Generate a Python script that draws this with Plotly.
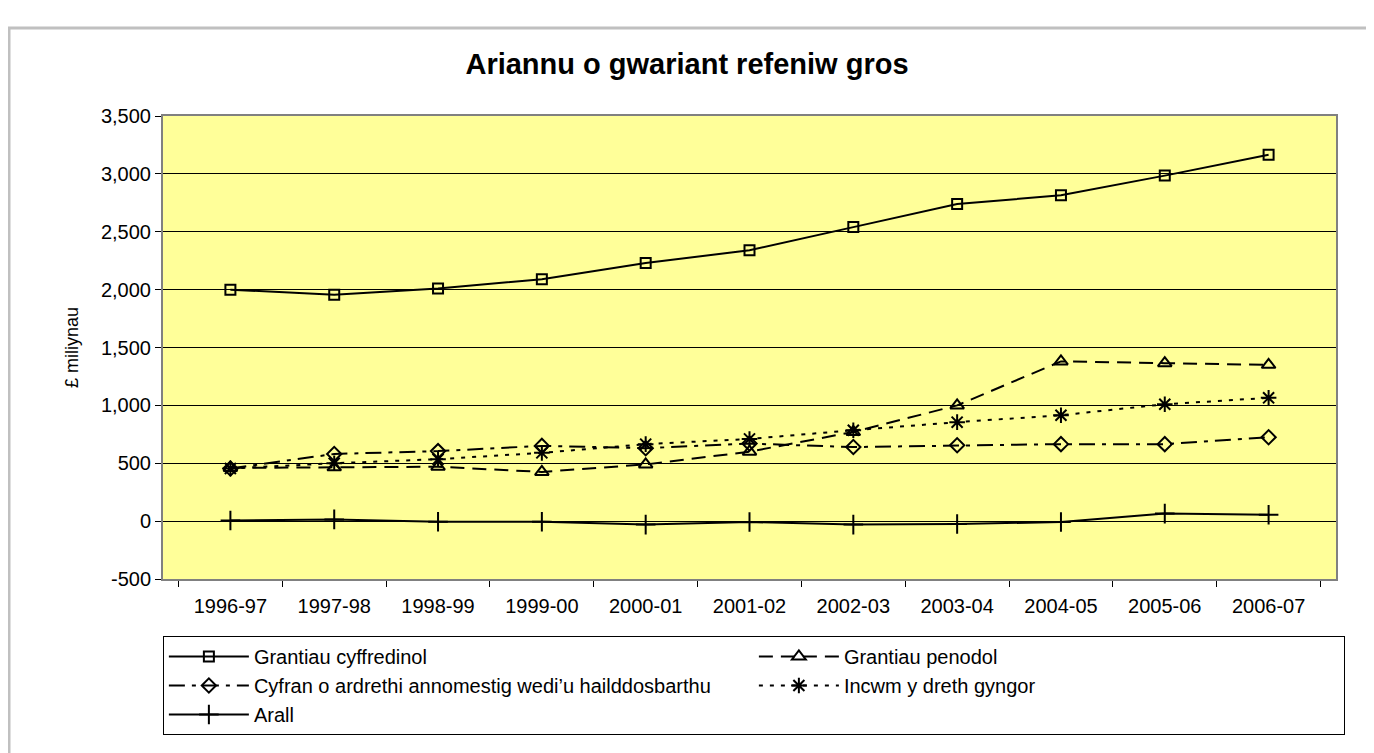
import plotly.graph_objects as go

# --- data ---
categories = ["1996-97", "1997-98", "1998-99", "1999-00", "2000-01", "2001-02",
              "2002-03", "2003-04", "2004-05", "2005-06", "2006-07"]
grantiau_cyffredinol = [2000, 1955, 2010, 2090, 2230, 2340, 2540, 2740, 2815, 2985, 3165]
grantiau_penodol = [460, 465, 470, 425, 490, 600, 770, 1000, 1380, 1365, 1350]
cyfran_ardrethi = [455, 580, 605, 650, 630, 670, 640, 655, 665, 665, 725]
incwm_treth_gyngor = [455, 500, 535, 590, 665, 710, 785, 855, 915, 1010, 1065]
arall = [5, 15, -5, -5, -30, -8, -30, -25, -8, 65, 55]

y_ticks = [-500, 0, 500, 1000, 1500, 2000, 2500, 3000, 3500]
y_tick_labels = ["-500", "0", "500", "1,000", "1,500", "2,000", "2,500", "3,000", "3,500"]

# page body has an 8px margin, so the figure is drawn 8px in from the window edge
OFF = 8
W, H = 1374 - OFF, 753 - OFF
ML, MR, MT, MB = 163 - OFF, 38, 116 - OFF, 174
FONT = "Liberation Sans, Arial, sans-serif"

series = [
    ("Grantiau cyffredinol", grantiau_cyffredinol, "solid", "square-open", 10),
    ("Grantiau penodol", grantiau_penodol, "14px,8px", "triangle-up-open", 12),
    ("Cyfran o ardrethi annomestig wedi\u2019u hailddosbarthu", cyfran_ardrethi,
     "16px,7px,4px,7px", "diamond-open", 11),
    ("Incwm y dreth gyngor", incwm_treth_gyngor, "4px,7px", "asterisk-open", 13),
    ("Arall", arall, "solid", "cross-thin-open", 14),
]

fig = go.Figure()
for name, vals, dash, symbol, size in series:
    fig.add_trace(go.Scatter(
        x=categories, y=vals, name=name,
        mode="lines+markers",
        line=dict(color="black", width=2, dash=dash),
        marker=dict(symbol=symbol, size=size, color="black",
                    line=dict(color="black", width=2)),
    ))

# outer chart border (light grey frame), window pixels -> paper coords
pw, ph = W - ML - MR, H - MT - MB
def px_x(v):
    return (v - OFF - ML) / pw
def px_y(v):
    return (H - MB - (v - OFF)) / ph

fig.add_shape(type="rect", xref="paper", yref="paper",
              x0=px_x(9), x1=px_x(1369), y0=px_y(770), y1=px_y(28),
              line=dict(color="#c0c0c0", width=3), fillcolor="rgba(0,0,0,0)",
              layer="below")

fig.update_layout(
    width=W, height=H,
    margin=dict(l=ML, r=MR, t=MT, b=MB, autoexpand=False),
    paper_bgcolor="white",
    plot_bgcolor="#ffff99",
    font=dict(family=FONT, color="black", size=20),
    title=dict(text="<b>Ariannu o gwariant refeniw gros</b>",
               x=(687 - OFF) / W, xref="container", xanchor="center",
               y=1 - (64 - OFF) / H, yref="container", yanchor="middle",
               font=dict(family=FONT, size=29, color="black")),
    showlegend=True,
    legend=dict(
        orientation="h",
        x=-0.0001, xanchor="left",
        y=px_y(636), yanchor="top",
        bordercolor="black", borderwidth=1, bgcolor="white",
        entrywidth=495, itemwidth=80,
        font=dict(family=FONT, size=20, color="black"),
    ),
)

fig.update_xaxes(
    type="category", tickson="boundaries", ticks="outside", ticklen=6,
    tickcolor="black", showgrid=False, showline=True, mirror=True,
    linecolor="#808080", linewidth=2, ticklabelstandoff=8,
    tickfont=dict(family=FONT, size=20, color="black"),
)
fig.update_yaxes(
    range=[-500, 3500], tickvals=y_ticks, ticktext=y_tick_labels,
    ticks="outside", ticklen=6,
    tickcolor="black", showgrid=True, gridcolor="black", gridwidth=1,
    zeroline=False, showline=True, mirror=True,
    linecolor="#808080", linewidth=2,
    tickfont=dict(family=FONT, size=20, color="black"),
    title=dict(text="\u00a3 miliynau", standoff=18,
               font=dict(family=FONT, size=18, color="black")),
)

fig.write_html("out.html")
